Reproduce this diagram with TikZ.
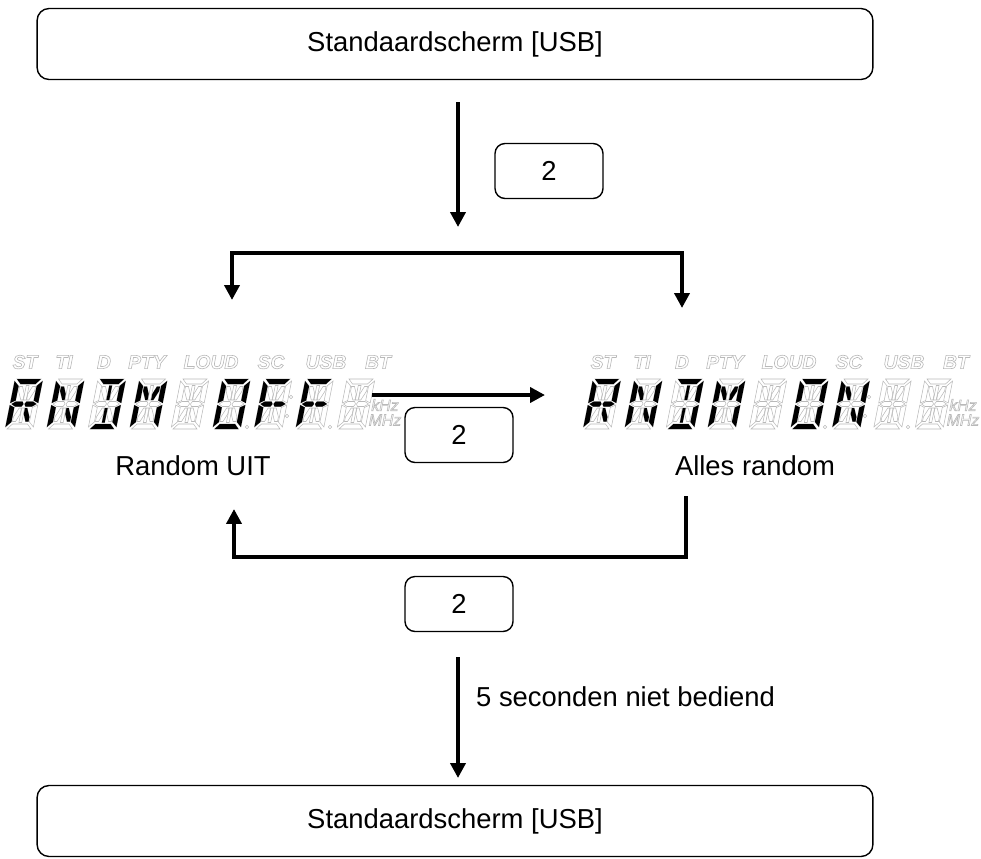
\documentclass[tikz,border=0pt]{standalone}
\usepackage{fontspec}
\setmainfont{Liberation Sans}
\usetikzlibrary{arrows.meta}

% outlines of the 14 segments of one LCD digit (28 x 50, before slanting)
\def\segtop{(2,0)--(26,0)--(21.5,5)--(6.5,5)--cycle}
\def\segul{(0,2)--(5,7)--(5,21.5)--(0,24)--cycle}
\def\segur{(28,2)--(28,24)--(23,21.5)--(23,7)--cycle}
\def\segll{(0,26)--(5,28.5)--(5,43)--(0,48)--cycle}
\def\seglr{(28,26)--(28,48)--(23,43)--(23,28.5)--cycle}
\def\segbot{(6.5,45)--(21.5,45)--(26,50)--(2,50)--cycle}
\def\segml{(1.5,25)--(5.5,22.5)--(12,22.5)--(13.5,25)--(12,27.5)--(5.5,27.5)--cycle}
\def\segmr{(14.5,25)--(16,22.5)--(22.5,22.5)--(26.5,25)--(22.5,27.5)--(16,27.5)--cycle}
\def\segdul{(6,7.5)--(9,7.5)--(12.2,15)--(12.2,21)--(10,21)--(6,12)--cycle}
\def\segcu{(12.6,6.5)--(15.4,6.5)--(15.4,21)--(12.6,21)--cycle}
\def\segdur{(22,7.5)--(19,7.5)--(15.8,15)--(15.8,21)--(18,21)--(22,12)--cycle}
\def\segdll{(6,42.5)--(9,42.5)--(12.2,35)--(12.2,29)--(10,29)--(6,38)--cycle}
\def\segcl{(12.6,29)--(15.4,29)--(15.4,43.5)--(12.6,43.5)--cycle}
\def\segdlr{(22,42.5)--(19,42.5)--(15.8,35)--(15.8,29)--(18,29)--(22,38)--cycle}
\def\segnone{(0,0)}

% lit segments per character
\def\chR{top,ul,ur,ml,mr,ll,dlr}
\def\chN{ul,ll,ur,lr,dul,dlr}
\def\chD{top,ur,lr,bot,cu,cl}
\def\chM{ul,ll,ur,lr,dul,dur}
\def\chO{top,ul,ur,ll,lr,bot}
\def\chF{top,ul,ml,mr,ll}
\def\chX{none}

% hollow (outlined) lettering of the LCD
\newcommand{\hollow}[1]{\special{pdf:literal direct 1 Tr 0.35 w}#1\special{pdf:literal direct 0 Tr}}

\newcommand{\lcdglyph}[2]{%
  \begin{scope}[shift={(#1+10,379)},xslant=0.2]
    \foreach \s in {top,ul,ur,ml,mr,ll,lr,bot,dul,cu,dur,dll,cl,dlr}
      {\draw[lcdoff] \csname seg\s\endcsname;}
    \foreach \s in #2 {\fill[lcdon] \csname seg\s\endcsname;}
  \end{scope}}

\begin{document}
\begin{tikzpicture}[x=0.02cm,y=-0.02cm,
  statebox/.style={draw, rounded corners=0.24cm, minimum width=16.72cm, minimum height=1.42cm, line width=0.8pt, font=\fontsize{15.6}{18}\selectfont},
  keybox/.style={draw, rounded corners=0.2cm, minimum width=2.16cm, minimum height=1.1cm, line width=0.8pt, font=\fontsize{15.6}{18}\selectfont},
  txt/.style={font=\fontsize{15.6}{18}\selectfont},
  ind/.style={font=\fontsize{11}{12}\selectfont\bfseries\itshape, text=gray!55, inner sep=0},
  unit/.style={font=\fontsize{9}{10}\selectfont\itshape, text=gray!55, inner sep=0},
  lcdoff/.style={draw=gray!55, line width=0.3pt},
  lcdon/.style={fill=black},
  tip/.style={-{Triangle[width=8.5pt,length=8.5pt]}},
  flow/.style={line width=2.3pt, tip}]

\useasboundingbox (0,0) rectangle (981,859);

\node[statebox] (top) at (455,44) {Standaardscherm [USB]};
\node[keybox] (key1) at (549,171) {2};

\coordinate (d1) at (458,102); \coordinate (d2) at (458,227);
\draw[flow] (d1) -- (d2);

%%%%% split to both displays
\coordinate (sl) at (232,300); \coordinate (cl) at (232,253); \coordinate (cr) at (682,253); \coordinate (sr) at (682,308);
\draw[line width=2.3pt, {Triangle[width=8.5pt,length=8.5pt]}-{Triangle[width=8.5pt,length=8.5pt]}] (sl) -- (cl) -- (cr) -- (sr);

%%%%% the two LCD displays
\foreach \o/\d in {0/L,578/R}{
  \foreach \t/\x in {ST/25,TI/64,D/104,PTY/147,LOUD/211,SC/271,USB/326,BT/378}
    \node[ind] (ind\d\t) at (\x+\o,362) {\hollow{\t}};
  \node[unit] (khz\d) at (385+\o,405) {\hollow{kHz}};
  \node[unit] (mhz\d) at (385+\o,420) {\hollow{MHz}};
  \draw[lcdoff] (247+\o,427) circle [radius=1.8];
  \draw[lcdoff] (291+\o,397) circle [radius=1.8];
  \draw[lcdoff] (287+\o,416) circle [radius=1.8];
  \draw[lcdoff] (330+\o,427) circle [radius=1.8];
}

% RNDM OFF
\lcdglyph{5}{\chR} \lcdglyph{46.5}{\chN} \lcdglyph{88}{\chD} \lcdglyph{129.5}{\chM} \lcdglyph{171}{\chX}
\lcdglyph{212.5}{\chO} \lcdglyph{254}{\chF} \lcdglyph{295.5}{\chF} \lcdglyph{337}{\chX}

% RNDM ON
\lcdglyph{583}{\chR} \lcdglyph{624.5}{\chN} \lcdglyph{666}{\chD} \lcdglyph{707.5}{\chM} \lcdglyph{749}{\chX}
\lcdglyph{790.5}{\chO} \lcdglyph{832}{\chN} \lcdglyph{873.5}{\chX} \lcdglyph{915}{\chX}

\node[txt] (uit) at (193,466) {Random UIT};
\node[txt] (alles) at (755,466) {Alles random};

\coordinate (h1) at (372,395); \coordinate (h2) at (545,395);
\draw[flow] (h1) -- (h2);
\node[keybox] (key2) at (459,435) {2};

%%%%% back to Random UIT
\coordinate (r1) at (686,496); \coordinate (r2) at (686,557); \coordinate (r3) at (234,557); \coordinate (r4) at (234,509);
\draw[flow] (r1) -- (r2) -- (r3) -- (r4);
\node[keybox] (key3) at (459,604) {2};

%%%%% time out
\coordinate (t1) at (458,657); \coordinate (t2) at (458,778);
\draw[flow] (t1) -- (t2);
\node[txt, anchor=west] (wait) at (470,697) {5 seconden niet bediend};

\node[statebox] (bottom) at (455,821) {Standaardscherm [USB]};

\end{tikzpicture}
\end{document}
